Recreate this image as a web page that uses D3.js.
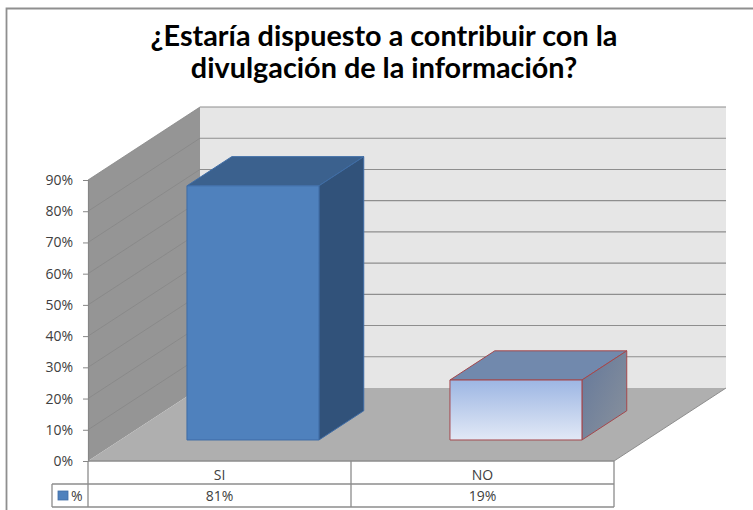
<!DOCTYPE html>
<html><head><meta charset="utf-8">
<script src="https://cdn.jsdelivr.net/npm/d3@7/dist/d3.min.js"></script>
<style>html,body{margin:0;padding:0;background:#fff}svg{display:block}text{font-family:"Open Sans","DejaVu Sans",sans-serif}</style>
</head><body><svg id="c" width="753" height="510"></svg>
<script>
const categories = ["SI", "NO"];
const values = [81.4, 19.2];
const tableLabels = ["81%", "19%"];
const seriesName = "%";
const yTicks = [0,10,20,30,40,50,60,70,80,90];
const titleLines = ["¿Estaría dispuesto a contribuir con la", "divulgación de la información?"];

const svg = d3.select("#c");
const y = d3.scaleLinear().domain([0,90]).range([461,180]);
const x = d3.scaleBand().domain(categories).range([88,614]);
const depth = {dx:112, dy:-73};
const pt = (px, py, t) => [px + depth.dx*t, py + depth.dy*t];
const poly = pts => d3.line()(pts) + "Z";

const defs = svg.append("defs");
const g1 = defs.append("linearGradient").attr("id","noFront").attr("x1",0).attr("y1",0).attr("x2",0).attr("y2",1);
g1.append("stop").attr("offset",0).attr("stop-color","#9db6e3");
g1.append("stop").attr("offset",1).attr("stop-color","#e2e9f6");
const g2 = defs.append("linearGradient").attr("id","noSide").attr("x1",0).attr("y1",0).attr("x2",1).attr("y2",1);
g2.append("stop").attr("offset",0).attr("stop-color","#64789b");
g2.append("stop").attr("offset",1).attr("stop-color","#8a929c");

// frame
svg.append("path").attr("d","M6.5,510V8.5H753").attr("stroke","#8f8f8f").attr("stroke-width",1.8).attr("fill","none");

// title
svg.append("g").selectAll("text").data(titleLines).join("text")
  .attr("x",384).attr("y",(d,i)=>46+i*32).attr("text-anchor","middle")
  .style("font-family",'Lato,"Open Sans",sans-serif')
  .attr("font-size",28.8).attr("font-weight",700).attr("fill","#000").text(d=>d);

// walls
const [x0,x1] = x.range();
svg.append("path").attr("d",poly([[x0,y(90)],pt(x0,y(90),1),pt(x0,y(0),1),[x0,y(0)]])).attr("fill","#959595");
svg.append("path").attr("d",poly([pt(x0,y(90),1),pt(x1,y(90),1),pt(x1,y(0),1),pt(x0,y(0),1)])).attr("fill","#e6e6e6");
svg.append("path").attr("d",poly([[x0,y(0)],[x1,y(0)],pt(x1,y(0),1),pt(x0,y(0),1)])).attr("fill","#afafaf");

// gridlines
const grid = svg.append("g").attr("fill","none");
yTicks.forEach(t=>{
  const a=[x0,y(t)], b=pt(x0,y(t),1), c=pt(x1,y(t),1);
  if(t>0) grid.append("path").attr("d",d3.line()([a,b])).attr("stroke","#868686").attr("stroke-width",0.8);
  if(t>0) grid.append("path").attr("d",d3.line()([b,c])).attr("stroke","#8e8e8e").attr("stroke-width",1.1);
});
grid.append("path").attr("d",d3.line()([[x1,y(0)],pt(x1,y(0),1)])).attr("stroke","#8e8e8e").attr("stroke-width",1);

// axis
const axis = d3.axisLeft(y).tickValues(yTicks).tickFormat(d=>d+"%").tickSize(5).tickPadding(10);
const ag = svg.append("g").attr("transform",`translate(${x0},0)`).call(axis);
ag.select(".domain").attr("stroke","#868686").attr("stroke-width",1.2);
ag.selectAll(".tick line").attr("stroke","#868686");
ag.selectAll("text").attr("font-size",14).attr("fill","#404040").style("font-family",'"Open Sans",sans-serif');

// bars
const barW = 132, tBar = 0.288, barDepth = 0.4;
const styles = [
 {front:"#4f81bd",top:"#3b618e",side:"#31527a",stroke:"#3f6da6"},
 {front:"url(#noFront)",top:"#7189ad",side:"url(#noSide)",stroke:"#a5474b"}
];
categories.forEach((c,i)=>{
  const s = styles[i];
  const cx = x(c)+x.bandwidth()/2;
  const [l,b] = pt(cx-barW/2+1.2,y(0),tBar);
  const r = l+barW, tp = y(values[i]) + depth.dy*tBar;
  const d = {dx:depth.dx*barDepth, dy:depth.dy*barDepth};
  const g = svg.append("g").attr("stroke",s.stroke).attr("stroke-width",1).attr("stroke-linejoin","round");
  g.append("path").attr("d",poly([[l,tp],[l+d.dx,tp+d.dy],[r+d.dx,tp+d.dy],[r,tp]])).attr("fill",s.top);
  g.append("path").attr("d",poly([[r,tp],[r+d.dx,tp+d.dy],[r+d.dx,b+d.dy],[r,b]])).attr("fill",s.side);
  g.append("path").attr("d",poly([[l,tp],[r,tp],[r,b],[l,b]])).attr("fill",s.front);
});

// data table
const rowY = [y(0), 484, 507];
const tbl = svg.append("g").attr("stroke","#8c8c8c").attr("stroke-width",1.3).attr("fill","none");
const xs = [x0, x0+x.bandwidth(), x1];
xs.forEach(v=>tbl.append("path").attr("d",`M${v},${rowY[0]}V${rowY[2]}`));
rowY.forEach((v,i)=>tbl.append("path").attr("d",`M${i?52:x0},${v}H${x1}`));
tbl.append("path").attr("d",`M52,${rowY[1]}V${rowY[2]}`);
categories.forEach((c,i)=>{
  const cx = x(c)+x.bandwidth()/2;
  svg.append("text").attr("x",cx).attr("y",480).attr("text-anchor","middle").attr("font-size",14).attr("fill","#404040").text(c);
  svg.append("text").attr("x",cx).attr("y",500.5).attr("text-anchor","middle").attr("font-size",14).attr("fill","#404040").text(tableLabels[i]);
});
svg.append("rect").attr("x",58).attr("y",491).attr("width",10).attr("height",9).attr("fill","#4f81bd").attr("stroke","#3f6da6").attr("stroke-width",0.8);
svg.append("text").attr("x",71).attr("y",500.5).attr("font-size",14).attr("fill","#404040").text(seriesName);
</script></body></html>
